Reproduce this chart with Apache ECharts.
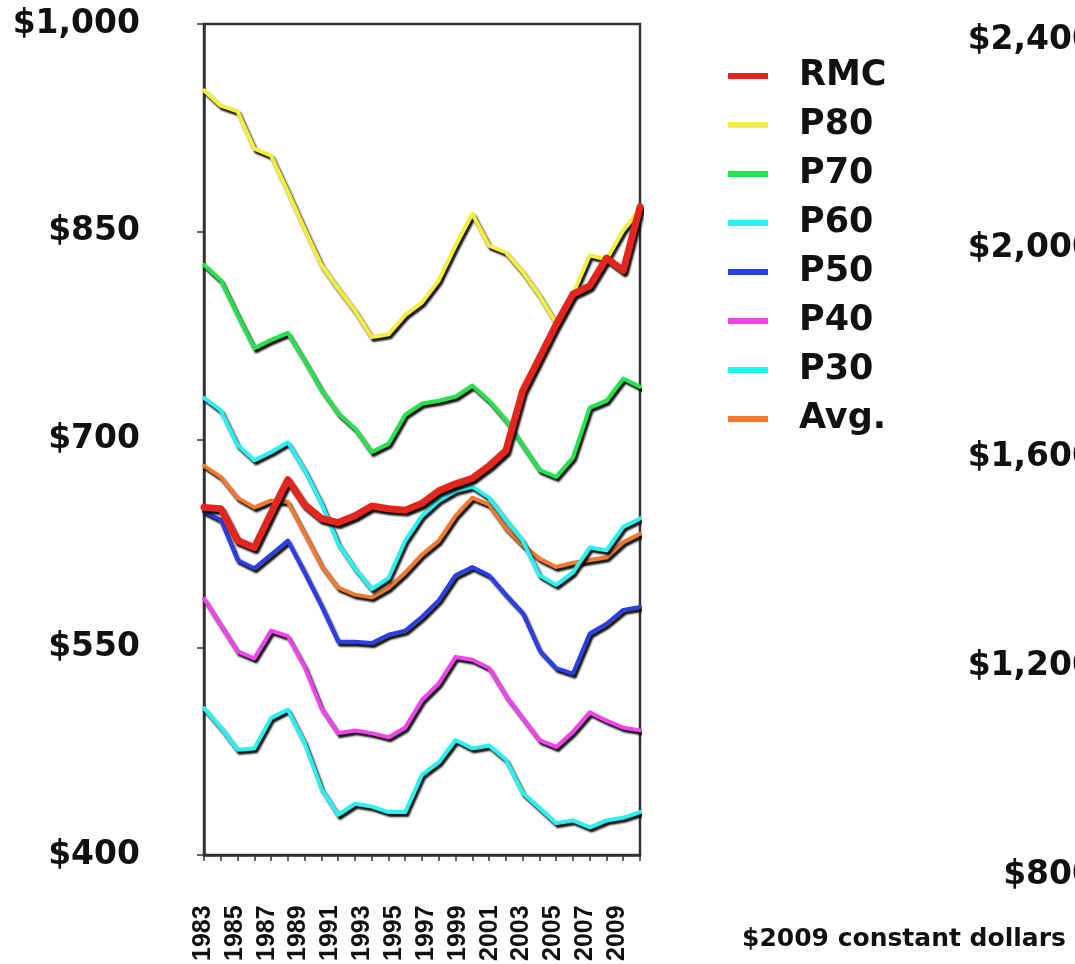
<!DOCTYPE html>
<html>
<head>
<meta charset="utf-8">
<script src="https://cdn.jsdelivr.net/npm/echarts@6/dist/echarts.min.js"></script>
<style>
html,body{margin:0;padding:0;background:#fff;}
#chart{width:1075px;height:964px;}
</style>
</head>
<body>
<div id="chart"></div>
<script>
var years = ['1983','1984','1985','1986','1987','1988','1989','1990','1991','1992','1993','1994','1995','1996','1997','1998','1999','2000','2001','2002','2003','2004','2005','2006','2007','2008','2009'];
var rmc = [651, 650, 627, 622, 647, 671, 653, 643, 640, 645, 652, 650, 649, 654, 663, 668, 672, 681, 692, 735, 759, 783, 805, 811, 831, 822, 868];
var p80 = [952, 941, 937, 910, 905, 879, 852, 826, 809, 793, 774, 776, 790, 799, 815, 840, 863, 840, 835, 821, 804, 784, 805, 833, 830, 851, 866];
var p70 = [826, 815, 790, 766, 772, 777, 757, 736, 719, 708, 691, 697, 718, 726, 728, 731, 739, 728, 714, 696, 678, 673, 687, 723, 728, 744, 738];
var p60 = [730, 721, 696, 685, 691, 698, 678, 654, 625, 607, 592, 600, 627, 645, 656, 663, 666, 658, 642, 627, 602, 595, 604, 622, 620, 637, 643];
var p50 = [648, 642, 613, 607, 617, 627, 604, 580, 554, 554, 553, 559, 562, 572, 584, 602, 608, 602, 588, 575, 548, 535, 531, 560, 567, 577, 579];
var p40 = [585, 566, 547, 542, 562, 558, 536, 506, 488, 490, 488, 485, 492, 512, 524, 543, 541, 535, 515, 499, 483, 478, 489, 503, 497, 492, 490];
var p30 = [506, 492, 476, 477, 499, 505, 481, 448, 429, 437, 435, 431, 431, 458, 467, 483, 477, 479, 469, 445, 434, 423, 425, 420, 425, 427, 431];
var avg = [681, 673, 658, 651, 656, 655, 632, 609, 593, 588, 586, 593, 604, 617, 627, 645, 658, 653, 636, 624, 614, 608, 611, 613, 615, 626, 632];
var legendOrder = ['RMC','P80','P70','P60','P50','P40','P30','Avg.'];
var unitLabel = '$2009 constant dollars';

function money(v){
  if (v >= 1000) { return '$' + Math.floor(v/1000) + ',' + String(v % 1000).padStart(3,'0'); }
  return '$' + v;
}
var FONT = 'DejaVu Sans';
function mk(name, data, color, width){
  return {
    name: name, type: 'line', data: data, xAxisIndex: 0, yAxisIndex: 0,
    symbol: 'none', showSymbol: false, animation: false,
    color: color,
    lineStyle: { color: color, width: width, cap: 'round', join: 'round',
      shadowColor: 'rgba(0,0,0,0.95)', shadowBlur: 2, shadowOffsetX: 2, shadowOffsetY: 3 },
    emphasis: { disabled: true }
  };
}
var chart = echarts.init(document.getElementById('chart'), null, {renderer:'canvas'});
chart.setOption({
  animation: false,
  backgroundColor: '#fff',
  title: { text: unitLabel, left: 737, top: 922,
    textStyle: { fontFamily: FONT, fontWeight: 'bold', fontSize: 25, color: '#111' } },
  legend: {
    data: legendOrder, orient: 'vertical', left: 723, top: 51,
    itemWidth: 40, itemHeight: 6, itemGap: 9, icon: 'rect',
    itemStyle: { shadowBlur: 0, shadowColor: 'transparent' },
    textStyle: { fontFamily: FONT, fontWeight: 'bold', fontSize: 35, color: '#111', lineHeight: 40, padding: [0,0,0,26] }
  },
  grid: [
    { left: 204, top: 24, width: 436, height: 831, show: true, borderColor: '#333', borderWidth: 2.5, backgroundColor: 'transparent' },
    { left: 1103, top: 40, width: 100, height: 835, show: false },
    { left: 203, top: 24, width: 414, height: 831, show: false }
  ],
  xAxis: [
    { type: 'category', gridIndex: 0, data: years, boundaryGap: false,
      axisLine: { show: true, lineStyle: { color: '#333', width: 2.5 } },
      axisTick: { show: true, interval: 0, length: 6, lineStyle: { color: '#333', width: 1.5 } },
      axisLabel: { show: false }, splitLine: { show: false } },
    { type: 'value', gridIndex: 1, show: false },
    { type: 'category', gridIndex: 2, data: years, boundaryGap: false,
      axisLine: { show: false }, axisTick: { show: false }, splitLine: { show: false },
      axisLabel: { show: true, interval: 1, rotate: 90, margin: 51,
        fontFamily: 'Liberation Sans', fontWeight: 'bold', fontSize: 25, color: '#111' } }
  ],
  yAxis: [
    { type: 'value', gridIndex: 0, min: 400, max: 1000, interval: 150,
      axisLine: { show: true, lineStyle: { color: '#333', width: 2.5 } },
      axisTick: { show: true, length: 7, lineStyle: { color: '#333', width: 1.5 } },
      splitLine: { show: false },
      axisLabel: { formatter: money, margin: 64, fontFamily: FONT, fontWeight: 'bold', fontSize: 33, color: '#111' } },
    { type: 'value', gridIndex: 1, min: 800, max: 2400, interval: 400,
      axisLine: { show: false }, axisTick: { show: false }, splitLine: { show: false },
      axisLabel: { formatter: money, margin: 8, fontFamily: FONT, fontWeight: 'bold', fontSize: 33, color: '#111' } },
    { type: 'value', gridIndex: 2, show: false }
  ],
  series: [
    mk('Avg.', avg, '#f27a30', 4),
    mk('P30', p30, '#2af2f2', 4),
    mk('P40', p40, '#f244ee', 4),
    mk('P50', p50, '#2a3fe6', 4),
    mk('P60', p60, '#2af2f2', 4),
    mk('P70', p70, '#26e24c', 4),
    mk('P80', p80, '#f4ee3c', 4),
    mk('RMC', rmc, '#e3261d', 7)
  ]
});
</script>
</body>
</html>
